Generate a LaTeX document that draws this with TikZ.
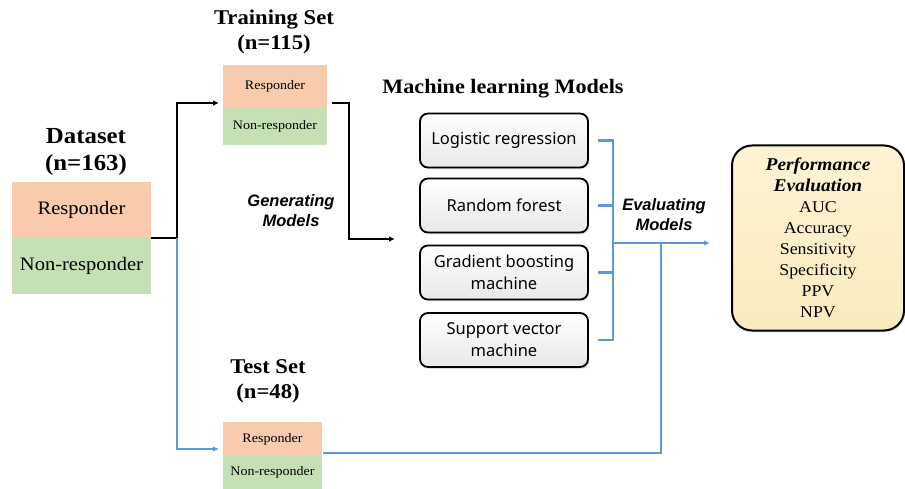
\documentclass[tikz,border=0pt]{standalone}
\usepackage{fontspec}
\setmainfont{Liberation Serif}[FakeStretch=1.08]
\newfontfamily\uisans{Noto Sans}
\newfontfamily\labelsans{Liberation Sans}
\usetikzlibrary{arrows.meta,shadows,calc}

\definecolor{respfill}{HTML}{F8CBAD}
\definecolor{nonfill}{HTML}{C5E0B4}
\definecolor{flowblue}{HTML}{5B9BD5}
\definecolor{evaltop}{HTML}{FEF3D3}
\definecolor{evalbottom}{HTML}{FAEBBE}

\newcommand{\evalhead}{\bfseries\itshape\fontsize{18}{23}\selectfont}
\newcommand{\evalbody}{\normalfont\fontsize{16.5}{21}\selectfont}

\tikzset{
  cell/.style={inner sep=0pt, outer sep=0pt, align=center, text=black},
  respcell/.style={cell, fill=respfill},
  noncell/.style={cell, fill=nonfill},
  headline/.style={font=\bfseries\fontsize{21}{25}\selectfont, align=center, inner sep=0pt},
  actionlabel/.style={font=\labelsans\bfseries\itshape\fontsize{16.5}{20}\selectfont, align=center, inner sep=0pt},
  modelbox/.style={draw=black, line width=1.8pt, rounded corners=8pt,
    top color=white, bottom color=black!9,
    minimum width=168pt, minimum height=54pt, inner sep=0pt, align=center,
    font=\uisans\fontsize{16.5}{22}\selectfont,
    drop shadow={opacity=0.25, shadow xshift=1.2pt, shadow yshift=-1.8pt}},
  evalbox/.style={draw=black, line width=2pt, rounded corners=20pt,
    top color=evaltop, bottom color=evalbottom,
    minimum width=172pt, minimum height=185pt, inner sep=0pt, align=center,
    drop shadow={opacity=0.25, shadow xshift=1.2pt, shadow yshift=-1.8pt}},
  blackflow/.style={draw=black, line width=1.8pt},
  blueflow/.style={draw=flowblue, line width=2.2pt},
  tip/.style={-{Latex[length=6pt,width=5.5pt]}}
}

\begin{document}
\begin{tikzpicture}[x=1pt,y=-1pt]
  \path[use as bounding box] (0,0) rectangle (905,489);

  % Dataset
  \node[headline, font=\bfseries\fontsize{23}{27}\selectfont] (dtitle) at (86,152) {Dataset\\(n=163)};
  \node[respcell, minimum width=139pt, minimum height=56pt, font=\fontsize{19}{22}\selectfont] (dresp) at (81.5,210) {Responder};
  \node[noncell, minimum width=139pt, minimum height=56pt, font=\fontsize{19}{22}\selectfont] (dnon) at (81.5,266) {Non-responder};

  % Training set
  \node[headline] (trtitle) at (274,32) {Training Set\\(n=115)};
  \node[respcell, minimum width=104pt, minimum height=42pt, font=\fontsize{13}{16}\selectfont] (tresp) at (275,86) {Responder};
  \node[noncell, minimum width=104pt, minimum height=38pt, font=\fontsize{13}{16}\selectfont] (tnon) at (275,126) {Non-responder};

  % Test set
  \node[headline] (tetitle) at (268,381) {Test Set\\(n=48)};
  \node[respcell, minimum width=99pt, minimum height=34pt, font=\fontsize{13}{16}\selectfont] (teresp) at (272.5,439) {Responder};
  \node[noncell, minimum width=99pt, minimum height=33pt, font=\fontsize{13}{16}\selectfont] (tenon) at (272.5,472.5) {Non-responder};

  % Models
  \node[headline, font=\bfseries\fontsize{20.5}{24}\selectfont] (mltitle) at (503,89) {Machine learning Models};
  \node[modelbox] (m1) at (504,140.5) {Logistic regression};
  \node[modelbox] (m2) at (504,205.5) {Random forest};
  \node[modelbox] (m3) at (504,272.5) {Gradient boosting\\machine};
  \node[modelbox] (m4) at (504,340) {Support vector\\machine};

  % Evaluation
  \node[evalbox, font=\evalbody] (perf) at (818,238)
    {\evalhead Performance\\\evalhead Evaluation\\AUC\\Accuracy\\Sensitivity\\Specificity\\PPV\\NPV};

  % Step labels
  \node[actionlabel] (genlabel) at (291,211) {Generating\\Models};
  \node[actionlabel] (evallabel) at (664,215) {Evaluating\\Models};

  % Free ends and junctions
  \coordinate (genend) at (395,239);
  \coordinate (brkx) at (613,0);
  \coordinate (joint) at (661,243);
  \coordinate (evalend) at (710,243);

  % Training branch
  \draw[blackflow, tip] (dresp.south east) -- ++(26,0) coordinate (split)
    |- ([xshift=-4pt,yshift=4pt]tresp.south west);
  \draw[blackflow, tip] ([xshift=5pt,yshift=4pt]tresp.south east) -- ++(17,0) |- (genend);

  % Test branch
  \draw[blueflow, tip] (split) |- ([xshift=-4pt,yshift=7pt]teresp.south west);
  \draw[blueflow] ([xshift=1pt,yshift=3pt]teresp.south east) -| (joint);

  % Bracket collecting the models
  \foreach \m in {m1,m2,m3,m4}
    \draw[blueflow] ([xshift=9pt]\m.east) -- (\m.east -| brkx);
  \draw[blueflow, line cap=rect] (m1.east -| brkx) -- (m4.east -| brkx);
  \draw[blueflow, tip] (brkx |- joint) -- (evalend);
\end{tikzpicture}
\end{document}
